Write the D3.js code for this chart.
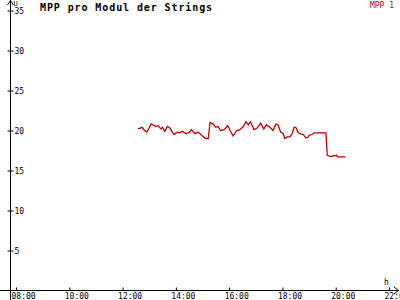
<!DOCTYPE html>
<html>
<head>
<meta charset="utf-8">
<script src="https://cdn.jsdelivr.net/npm/d3@7"></script>
<style>
  body { margin: 0; background: #fff; }
  svg { display: block; }
  text { font-family: "DejaVu Sans Mono", monospace; }
</style>
</head>
<body>
<div id="chart"></div>
<script>
// data (time of day, MPP voltage per module)
var times = ["12:35","12:44","12:48","12:54","12:58","13:04","13:09","13:15","13:20","13:26",
             "13:30","13:35","13:41","13:47","13:52","13:56","14:02","14:09","14:15","14:23",
             "14:30","14:35","14:43","14:50","14:58","15:07","15:13","15:17","15:24","15:30",
             "15:35","15:41","15:49","15:57","16:03","16:09","16:17","16:24","16:32","16:38",
             "16:43","16:48","16:56","17:03","17:11","17:18","17:24","17:32","17:39","17:45",
             "17:50","17:56","18:02","18:05","18:11","18:17","18:22","18:26","18:30","18:35",
             "18:39","18:47","18:52","18:57","19:00","19:06","19:12","19:21","19:38","19:41",
             "19:49","20:02","20:04","20:22"];
var mpp1 = [20.2,20.4,20.1,19.8,20.1,20.8,20.7,20.5,20.6,20.2,
            20.4,19.9,20.5,20.3,19.8,19.5,19.75,19.75,19.9,19.6,
            19.75,20.1,19.6,19.8,19.4,19.0,19.0,21.0,20.8,20.4,
            20.5,20.0,20.1,20.6,19.9,19.3,20.0,20.1,20.5,21.1,
            20.7,21.1,20.1,20.3,20.9,20.2,20.7,20.4,20.0,20.8,
            20.7,19.8,19.6,19.0,19.2,19.2,19.6,20.4,20.4,19.8,
            19.6,19.5,19.1,19.1,19.4,19.5,19.7,19.7,19.7,16.9,
            16.75,16.9,16.7,16.7];
var yTicks = [5, 10, 15, 20, 25, 30, 35];
var seriesName = "MPP 1";
var title = "MPP pro Modul der Strings";

var W = 400, H = 300;
var parse = d3.timeParse("%H:%M");
var data = times.map(function(t, i) { return {t: parse(t), v: mpp1[i]}; });

var svg = d3.select("#chart").append("svg")
    .attr("width", W)
    .attr("height", H);

var x = d3.scaleTime()
    .domain([parse("08:00"), parse("22:00")])
    .range([16, 389]);
var y = d3.scaleLinear()
    .domain([0, 35])
    .range([290.5, 10.5]);

var axisX = 10.5, axisY = 290.5;

// y axis line + arrow
svg.append("line")
    .attr("x1", axisX).attr("x2", axisX)
    .attr("y1", 0).attr("y2", H)
    .attr("stroke", "#000");
svg.append("path")
    .attr("d", "M" + (axisX - 3) + ",5 L" + axisX + ",0.5 L" + (axisX + 3) + ",5")
    .attr("fill", "none").attr("stroke", "#000");

// x axis line + arrow
svg.append("line")
    .attr("x1", 0).attr("x2", 398)
    .attr("y1", axisY).attr("y2", axisY)
    .attr("stroke", "#000");
svg.append("path")
    .attr("d", "M394," + (axisY - 3.5) + " L398.5," + axisY + " L394," + (axisY + 3.5))
    .attr("fill", "none").attr("stroke", "#000");

// y ticks: cross the axis, labels on the right
var gy = svg.append("g")
    .attr("transform", "translate(" + (axisX - 3) + ",0)")
    .call(d3.axisRight(y).tickValues(yTicks).tickSize(6).tickPadding(1)
          .tickFormat(d3.format("d")));
gy.select(".domain").remove();
gy.selectAll("line").attr("stroke", "#000");
gy.selectAll("text")
    .attr("font-size", "8px")
    .attr("font-family", "DejaVu Sans Mono, monospace")
    .attr("fill", "#000");

// x ticks: short marks above the axis, labels below
var gx = svg.append("g")
    .attr("transform", "translate(0," + axisY + ")")
    .call(d3.axisBottom(x).ticks(d3.timeHour.every(2)).tickSize(-3).tickPadding(2.5)
          .tickFormat(d3.timeFormat("%H:%M")));
gx.select(".domain").remove();
gx.selectAll("line").attr("stroke", "#000");
gx.selectAll("text")
    .attr("font-size", "8px")
    .attr("font-family", "DejaVu Sans Mono, monospace")
    .attr("text-anchor", "start")
    .attr("dx", -5)
    .attr("fill", "#000");

// axis unit labels
svg.append("text")
    .attr("x", 13.5).attr("y", 6)
    .attr("font-size", "7px")
    .text("U");
svg.append("text")
    .attr("x", 384).attr("y", 285)
    .attr("font-size", "8px")
    .text("h");

// title
svg.append("text")
    .attr("x", 40).attr("y", 11)
    .attr("font-size", "10px")
    .attr("font-weight", "bold")
    .attr("letter-spacing", "0.9px")
    .text(title);

// legend
svg.append("text")
    .attr("x", 394).attr("y", 7.5)
    .attr("text-anchor", "end")
    .attr("font-size", "8px")
    .attr("fill", "#c00000")
    .text(seriesName);

// series line
var line = d3.line()
    .x(function(d) { return x(d.t); })
    .y(function(d) { return y(d.v); });

svg.append("path")
    .datum(data)
    .attr("fill", "none")
    .attr("stroke", "#c00000")
    .attr("stroke-width", 1.3)
    .attr("d", line);
</script>
</body>
</html>
